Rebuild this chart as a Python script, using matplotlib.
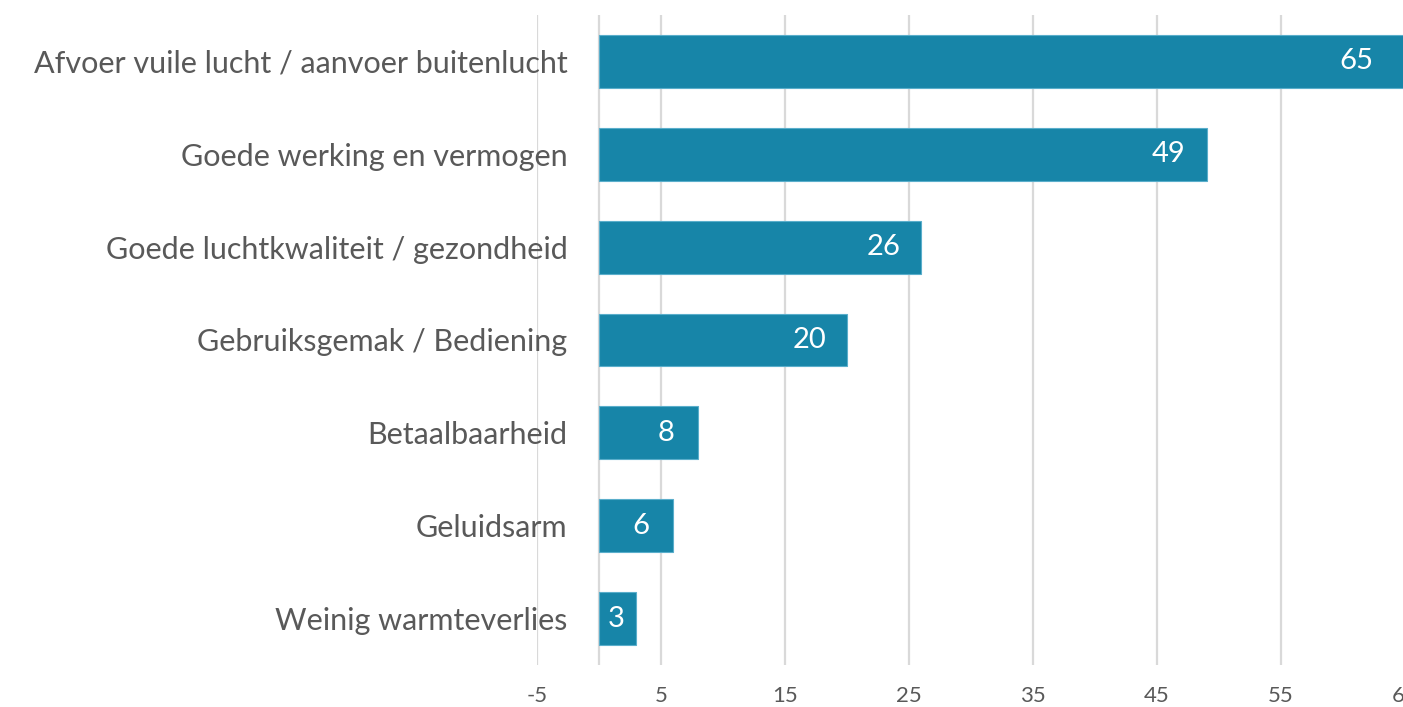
import matplotlib
matplotlib.use("Agg")
import matplotlib.pyplot as plt
from matplotlib.ticker import FixedLocator

categories = [
    "Afvoer vuile lucht / aanvoer buitenlucht",
    "Goede werking en vermogen",
    "Goede luchtkwaliteit / gezondheid",
    "Gebruiksgemak / Bediening",
    "Betaalbaarheid",
    "Geluidsarm",
    "Weinig warmteverlies",
]
values = [65, 49, 26, 20, 8, 6, 3]
xticks = [-5, 5, 15, 25, 35, 45, 55, 65]

BAR = "#1785a8"
GRID = "#d9d9d9"
TXT = "#595959"
FONT = ["Lato", "DejaVu Sans"]
plt.rcParams["font.family"] = FONT

W, H = 1403, 707
fig = plt.figure(figsize=(W / 100, H / 100), dpi=100)
left, right, top, bottom = 537, 1405, 15, 665
ax = fig.add_axes([left / W, 1 - bottom / H, (right - left) / W, (bottom - top) / H])

ypos = list(range(len(categories)))
ax.barh(ypos, values, height=0.57, color=BAR, edgecolor="#5aaecb", linewidth=0.8, zorder=3)
ax.set_xlim(-5, 65)
ax.set_ylim(len(categories) - 0.5, -0.5)

ax.xaxis.set_major_locator(FixedLocator(xticks))
ax.set_xticklabels([str(t) for t in xticks])
ax.grid(axis="x", color=GRID, linewidth=1.6, zorder=0)
ax.axvline(0, color=GRID, linewidth=1.6, zorder=1)
ax.set_axisbelow(True)
for s in ax.spines.values():
    s.set_visible(False)

ax.set_yticks(ypos)
ax.set_yticklabels(categories)
ax.tick_params(axis="y", length=0, pad=-22, labelsize=22, labelcolor=TXT)
ax.tick_params(axis="x", length=0, pad=15, labelsize=16, labelcolor=TXT)

px_per_unit = (right - left) / 70.0
for y, v in zip(ypos, values):
    bar_px = v * px_per_unit
    tw = 15 * len(str(v))
    pad = 21 if v >= 10 else min(24, max(3, (bar_px - tw) / 2))
    if v == values[0]:
        pad = 32
    ax.annotate(str(v), xy=(v, y), xytext=(-pad * 0.72, 0), textcoords="offset points",
                ha="right", va="center", color="white", fontsize=21, zorder=4)

fig.savefig("out.png", dpi=100)
